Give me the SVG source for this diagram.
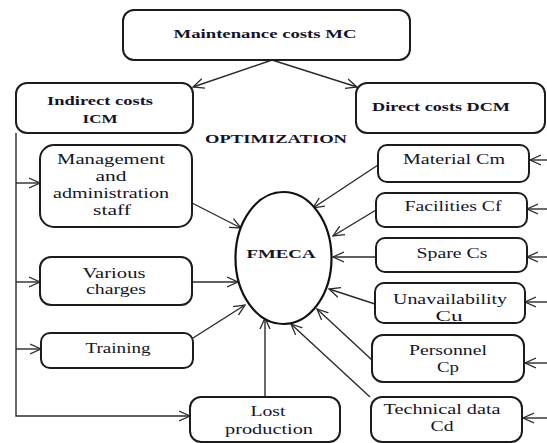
<svg xmlns="http://www.w3.org/2000/svg" width="547" height="443" viewBox="0 0 547 443">
  <style>
    .box { fill: #fff; stroke: #1c1c1c; stroke-width: 2; }
    .oval { fill: #fff; stroke: #111; stroke-width: 2.2; }
    text { font-family: "Liberation Serif", "DejaVu Serif", serif; }
    .t { font-size: 14px; fill: #141428; text-anchor: middle; }
    .b { font-weight: bold; font-size: 13.5px; }
    .link { fill: none; stroke: #2a2a2a; stroke-width: 1.4; }
  </style>
  <defs>
    <marker id="arr" viewBox="0 0 12 12" refX="11" refY="6" markerWidth="12" markerHeight="12" markerUnits="userSpaceOnUse" orient="auto">
      <path d="M0,1 L11,6 L0,11" fill="none" stroke="#2a2a2a" stroke-width="1.3"/>
    </marker>
  </defs>
  <rect width="547" height="443" fill="#fff"/>

  <g id="connectors">
    <!-- top split -->
    <line class="link" x1="272" y1="60" x2="193" y2="87" marker-end="url(#arr)"/>
    <line class="link" x1="272" y1="60" x2="357" y2="87" marker-end="url(#arr)"/>
    <!-- indirect cost bus -->
    <polyline class="link" points="16,133 16,416 190,416" marker-end="url(#arr)"/>
    <line class="link" x1="16" y1="183" x2="40" y2="183" marker-end="url(#arr)"/>
    <line class="link" x1="16" y1="282" x2="40" y2="282" marker-end="url(#arr)"/>
    <line class="link" x1="16" y1="349" x2="41" y2="349" marker-end="url(#arr)"/>
    <!-- indirect items into FMECA -->
    <line class="link" x1="192" y1="203" x2="241" y2="228" marker-end="url(#arr)"/>
    <line class="link" x1="192" y1="282" x2="238" y2="282" marker-end="url(#arr)"/>
    <line class="link" x1="193" y1="338" x2="245" y2="305" marker-end="url(#arr)"/>
    <line class="link" x1="265" y1="397" x2="265" y2="318" marker-end="url(#arr)"/>
    <!-- direct items into FMECA -->
    <line class="link" x1="378" y1="165" x2="313" y2="208" marker-end="url(#arr)"/>
    <line class="link" x1="376" y1="210" x2="333" y2="236" marker-end="url(#arr)"/>
    <line class="link" x1="376" y1="257" x2="333" y2="257" marker-end="url(#arr)"/>
    <line class="link" x1="375" y1="304" x2="329" y2="289" marker-end="url(#arr)"/>
    <line class="link" x1="372" y1="360" x2="317" y2="309" marker-end="url(#arr)"/>
    <line class="link" x1="370" y1="397" x2="291" y2="324" marker-end="url(#arr)"/>
    <!-- incoming feeds from the right -->
    <line class="link" x1="547" y1="160" x2="530" y2="160" marker-end="url(#arr)"/>
    <line class="link" x1="547" y1="209" x2="527" y2="209" marker-end="url(#arr)"/>
    <line class="link" x1="547" y1="257" x2="527" y2="257" marker-end="url(#arr)"/>
    <line class="link" x1="547" y1="302" x2="525" y2="302" marker-end="url(#arr)"/>
    <line class="link" x1="547" y1="363" x2="525" y2="363" marker-end="url(#arr)"/>
    <line class="link" x1="547" y1="418" x2="523" y2="418" marker-end="url(#arr)"/>
  </g>

  <g id="mc">
    <rect class="box" x="123" y="10" width="287" height="50" rx="11"/>
    <text class="t b" x="265" y="38" textLength="183" lengthAdjust="spacingAndGlyphs">Maintenance costs MC</text>
  </g>
  <g id="icm">
    <rect class="box" x="16" y="83" width="177" height="50" rx="11"/>
    <text class="t b" x="100" y="105" textLength="106" lengthAdjust="spacingAndGlyphs">Indirect costs</text>
    <text class="t b" x="100" y="123" textLength="35" lengthAdjust="spacingAndGlyphs">ICM</text>
  </g>
  <g id="dcm">
    <rect class="box" x="356" y="83" width="189" height="50" rx="11"/>
    <text class="t b" x="441" y="111" textLength="138" lengthAdjust="spacingAndGlyphs">Direct costs DCM</text>
  </g>
  <g id="optimization">
    <text class="t b" x="276" y="143" font-size="14" textLength="142" lengthAdjust="spacingAndGlyphs">OPTIMIZATION</text>
  </g>

  <g id="management">
    <rect class="box" x="40" y="145" width="152" height="82" rx="14"/>
    <text class="t" x="111" y="164" textLength="108" lengthAdjust="spacingAndGlyphs">Management</text>
    <text class="t" x="111" y="181" textLength="31" lengthAdjust="spacingAndGlyphs">and</text>
    <text class="t" x="111" y="198" textLength="116" lengthAdjust="spacingAndGlyphs">administration</text>
    <text class="t" x="112" y="215" textLength="38" lengthAdjust="spacingAndGlyphs">staff</text>
  </g>
  <g id="various">
    <rect class="box" x="40" y="257" width="152" height="48" rx="11"/>
    <text class="t" x="114" y="278" textLength="63" lengthAdjust="spacingAndGlyphs">Various</text>
    <text class="t" x="116" y="294" textLength="60" lengthAdjust="spacingAndGlyphs">charges</text>
  </g>
  <g id="training">
    <rect class="box" x="41" y="333" width="152" height="35" rx="9"/>
    <text class="t" x="118" y="353" textLength="65" lengthAdjust="spacingAndGlyphs">Training</text>
  </g>
  <g id="lost">
    <rect class="box" x="190" y="397" width="150" height="45" rx="11"/>
    <text class="t" x="268" y="416" textLength="35" lengthAdjust="spacingAndGlyphs">Lost</text>
    <text class="t" x="269" y="434" textLength="88" lengthAdjust="spacingAndGlyphs">production</text>
  </g>

  <g id="fmeca">
    <ellipse class="oval" cx="283.5" cy="258" rx="48" ry="66"/>
    <text class="t b" x="281" y="258" textLength="69" lengthAdjust="spacingAndGlyphs">FMECA</text>
  </g>

  <g id="material">
    <rect class="box" x="378" y="145" width="151" height="37" rx="9"/>
    <text class="t" x="454" y="164" textLength="102" lengthAdjust="spacingAndGlyphs">Material Cm</text>
  </g>
  <g id="facilities">
    <rect class="box" x="376" y="193" width="151" height="34" rx="9"/>
    <text class="t" x="453" y="211" textLength="97" lengthAdjust="spacingAndGlyphs">Facilities Cf</text>
  </g>
  <g id="spare">
    <rect class="box" x="376" y="238" width="151" height="34" rx="9"/>
    <text class="t" x="452" y="258" textLength="71" lengthAdjust="spacingAndGlyphs">Spare Cs</text>
  </g>
  <g id="unavailability">
    <rect class="box" x="375" y="283" width="150" height="40" rx="9"/>
    <text class="t" x="450" y="304" textLength="114" lengthAdjust="spacingAndGlyphs">Unavailability</text>
    <text class="t" x="449" y="321" textLength="27" lengthAdjust="spacingAndGlyphs">Cu</text>
  </g>
  <g id="personnel">
    <rect class="box" x="372" y="335" width="152" height="47" rx="11"/>
    <text class="t" x="448" y="355" textLength="78" lengthAdjust="spacingAndGlyphs">Personnel</text>
    <text class="t" x="448" y="372" textLength="22" lengthAdjust="spacingAndGlyphs">Cp</text>
  </g>
  <g id="technical">
    <rect class="box" x="371" y="397" width="151" height="45" rx="11"/>
    <text class="t" x="442" y="414" textLength="117" lengthAdjust="spacingAndGlyphs">Technical data</text>
    <text class="t" x="442" y="431" textLength="23" lengthAdjust="spacingAndGlyphs">Cd</text>
  </g>
</svg>
